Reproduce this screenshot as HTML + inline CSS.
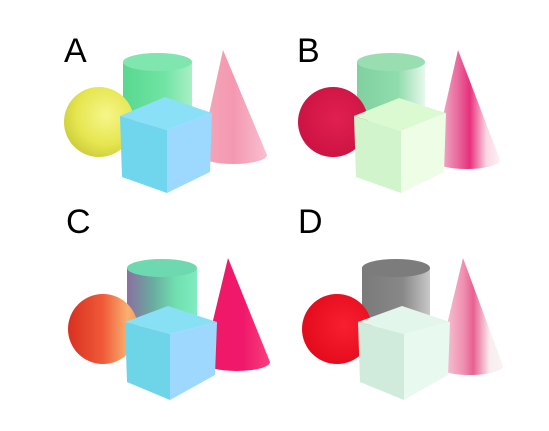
<!DOCTYPE html>
<html><head><meta charset="utf-8"><style>
html,body{margin:0;padding:0;background:#fff;width:549px;height:431px;overflow:hidden}
svg{display:block}
text{font-family:"Liberation Sans",sans-serif}
</style></head><body>
<svg id="fig" width="549" height="431" viewBox="0 0 549 431">
<defs>
<radialGradient id="sphA" cx="0.6" cy="0.4" r="0.7"><stop offset="0" stop-color="#f6f68a"/><stop offset="0.6" stop-color="#e6e650"/><stop offset="1" stop-color="#c8c838"/></radialGradient>
<radialGradient id="sphB" cx="0.55" cy="0.45" r="0.7"><stop offset="0" stop-color="#e02050"/><stop offset="1" stop-color="#c81040"/></radialGradient>
<linearGradient id="sphC" x1="0" y1="0" x2="1" y2="0"><stop offset="0" stop-color="#d83020"/><stop offset="0.5" stop-color="#f05a38"/><stop offset="0.85" stop-color="#f8b070"/><stop offset="1" stop-color="#f0a060"/></linearGradient>
<radialGradient id="sphD" cx="0.6" cy="0.45" r="0.7"><stop offset="0" stop-color="#f82030"/><stop offset="1" stop-color="#e00818"/></radialGradient>
<linearGradient id="cylA" x1="0" x2="1"><stop offset="0" stop-color="#58d890"/><stop offset="0.6" stop-color="#70e4a4"/><stop offset="1" stop-color="#a8f0c4"/></linearGradient>
<linearGradient id="cylB" x1="0" x2="1"><stop offset="0" stop-color="#80d0a0"/><stop offset="0.6" stop-color="#90dcac"/><stop offset="1" stop-color="#e8f8ec"/></linearGradient>
<linearGradient id="cylC" x1="0" x2="1"><stop offset="0" stop-color="#8a70a0"/><stop offset="0.35" stop-color="#6aa8a0"/><stop offset="0.7" stop-color="#70e0b0"/><stop offset="1" stop-color="#80ecc0"/></linearGradient>
<linearGradient id="cylD" x1="0" x2="1"><stop offset="0" stop-color="#7a7a7a"/><stop offset="0.6" stop-color="#888"/><stop offset="1" stop-color="#c8c8c8"/></linearGradient>
<linearGradient id="coneA" x1="0" x2="1"><stop offset="0" stop-color="#f4a8bc"/><stop offset="0.5" stop-color="#f498b0"/><stop offset="1" stop-color="#f8c0d0"/></linearGradient>
<linearGradient id="coneB" x1="0" x2="1"><stop offset="0" stop-color="#f4d0dc"/><stop offset="0.4" stop-color="#e86098"/><stop offset="0.55" stop-color="#e8307c"/><stop offset="0.8" stop-color="#f8d8e4"/><stop offset="1" stop-color="#fff0f4"/></linearGradient>
<linearGradient id="coneC" x1="0" x2="1"><stop offset="0" stop-color="#f01868"/><stop offset="0.6" stop-color="#f0186a"/><stop offset="1" stop-color="#f84080"/></linearGradient>
<linearGradient id="coneD" x1="0" x2="1"><stop offset="0" stop-color="#f8dce4"/><stop offset="0.4" stop-color="#f090b0"/><stop offset="0.55" stop-color="#e86090"/><stop offset="0.8" stop-color="#f8eef0"/><stop offset="1" stop-color="#faf2f0"/></linearGradient>
</defs>
<g id="panels"></g>
</svg>
<script>
const panels = [
 {id:'a', label:'A', lx:64, ly:62, sph:[99,122,35,'sphA'], cyl:[123,192,62,110,'cylA','#7ee6ae'], cone:[223,50,200,267,155,'coneA'],
  cube:[[165,97],[120,116],[212,113],[167,130],[122,177],[167,193],[210,172]], cubeCol:['#8ae0f6','#70d6ee','#9cd8ff']},
 {id:'b', label:'B', lx:297, ly:62, sph:[333,122,35,'sphB'], cyl:[357,425,62,110,'cylB','#98deb0'], cone:[458,50,433,500,160,'coneB'],
  cube:[[399,98],[354,116],[446,113],[401,131],[356,177],[401,193],[444,172]], cubeCol:['#dcfad2','#d2f4cc','#eefee6']},
 {id:'c', label:'C', lx:66, ly:233, sph:[103,329,35,'sphC'], cyl:[127,197,268,318,'cylC','#6ed8b0'], cone:[228,258,203,270,362,'coneC'],
  cube:[[168,306],[125,322],[217,322],[170,334],[127,382],[170,400],[215,375]], cubeCol:['#88e0f4','#6ed4e8','#9ed8ff']},
 {id:'d', label:'D', lx:298, ly:233, sph:[337,329,35,'sphD'], cyl:[362,430,268,318,'cylD','#7c7c7c'], cone:[463,258,437,503,366,'coneD'],
  cube:[[402,306],[358,322],[450,322],[404,334],[360,382],[404,400],[448,375]], cubeCol:['#e2f6ec','#d0eadc','#e8faf0']}
];
const g = document.getElementById('panels');
let html = '';
for (const p of panels) {
  const [sx,sy,sr,sg] = p.sph;
  const [cx1,cx2,ct,cb,cg,ctop] = p.cyl;
  const cxm=(cx1+cx2)/2, crx=(cx2-cx1)/2, cry=9;
  const [ax,ay,bl,br,by,cog] = p.cone;
  const brx=(br-bl)/2;
  const v = p.cube, c = p.cubeCol;
  const pt = a => a.join(',');
  html += `<g>
<text x="${p.lx}" y="${p.ly}" font-size="34" fill="#000">${p.label}</text>
<g>
<path d="M${cx1},${ct} L${cx1},${cb} A${crx},${cry} 0 0 0 ${cx2},${cb} L${cx2},${ct} Z" fill="url(#${cg})"/>
<ellipse cx="${cxm}" cy="${ct}" rx="${crx}" ry="${cry}" fill="${ctop}"/>
</g>
<circle cx="${sx}" cy="${sy}" r="${sr}" fill="url(#${sg})"/>
<path d="M${ax},${ay} L${bl},${by} A${brx},9 0 0 0 ${br},${by} Z" fill="url(#${cog})"/>
<g>
<polygon points="${pt(v[0])} ${pt(v[1])} ${pt(v[3])} ${pt(v[2])}" fill="${c[0]}"/>
<polygon points="${pt(v[1])} ${pt(v[3])} ${pt(v[5])} ${pt(v[4])}" fill="${c[1]}"/>
<polygon points="${pt(v[3])} ${pt(v[2])} ${pt(v[6])} ${pt(v[5])}" fill="${c[2]}"/>
</g></g>`;
}
g.innerHTML = html;
</script>
</body></html>
